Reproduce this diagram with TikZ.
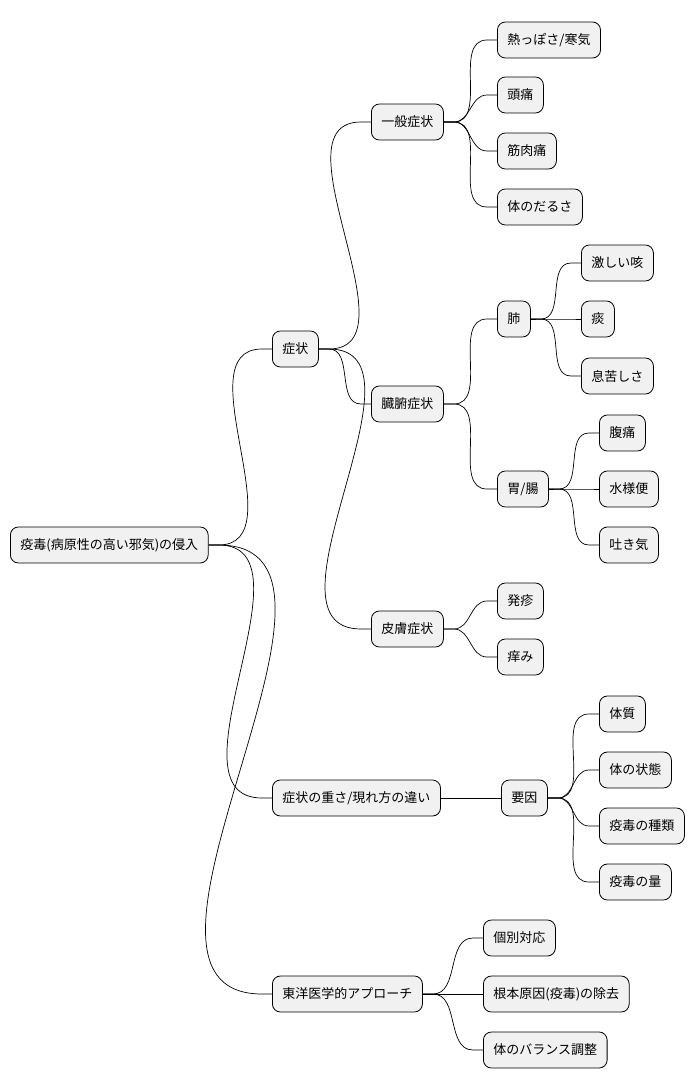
\documentclass[tikz,border=0pt]{standalone}
\usepackage{fontspec}
\setmainfont{Noto Sans CJK JP}
\begin{document}
\begin{tikzpicture}[x=1pt,y=-1pt,
  nd/.style={draw=black,fill={rgb,255:red,241;green,241;blue,241},rounded corners=8pt,minimum height=36pt,inner xsep=10pt,anchor=west,font=\fontsize{13pt}{15pt}\selectfont,line width=0.8pt},
  ln/.style={line width=0.7pt}]
\useasboundingbox (0,0) rectangle (700,1090);
\node[nd] (r) at (10,545) {疫毒(病原性の高い邪気)の侵入};
\node[nd] (s) at (272,349) {症状};
\node[nd] (g) at (371,122) {一般症状};
\node[nd] (g1) at (497,40) {熱っぽさ/寒気};
\node[nd] (g2) at (497,95) {頭痛};
\node[nd] (g3) at (497,151) {筋肉痛};
\node[nd] (g4) at (497,207) {体のだるさ};
\node[nd] (z) at (371,404) {臓腑症状};
\node[nd] (h) at (497,319) {肺};
\node[nd] (h1) at (581,263) {激しい咳};
\node[nd] (h2) at (581,319) {痰};
\node[nd] (h3) at (581,376) {息苦しさ};
\node[nd] (i) at (497,489) {胃/腸};
\node[nd] (i1) at (599,433) {腹痛};
\node[nd] (i2) at (599,489) {水様便};
\node[nd] (i3) at (599,545) {吐き気};
\node[nd] (k) at (371,629) {皮膚症状};
\node[nd] (k1) at (497,601) {発疹};
\node[nd] (k2) at (497,657) {痒み};
\node[nd] (w) at (272,798) {症状の重さ/現れ方の違い};
\node[nd] (y) at (501,798) {要因};
\node[nd] (y1) at (599,714) {体質};
\node[nd] (y2) at (599,770) {体の状態};
\node[nd] (y3) at (599,826) {疫毒の種類};
\node[nd] (y4) at (599,882) {疫毒の量};
\node[nd] (t) at (272,994) {東洋医学的アプローチ};
\node[nd] (t1) at (483,938) {個別対応};
\node[nd] (t2) at (483,994) {根本原因(疫毒)の除去};
\node[nd] (t3) at (483,1050) {体のバランス調整};
\foreach \p/\c in {r/s,r/w,r/t,s/g,s/z,s/k,g/g1,g/g2,g/g3,g/g4,z/h,z/i,h/h1,h/h2,h/h3,i/i1,i/i2,i/i3,k/k1,k/k2,w/y,y/y1,y/y2,y/y3,y/y4,t/t1,t/t2,t/t3}
  \draw[ln] (\p.east) -- ++(10,0) to[out=0,in=180] ([xshift=-10pt]\c.west) -- (\c.west);
\end{tikzpicture}
\end{document}
